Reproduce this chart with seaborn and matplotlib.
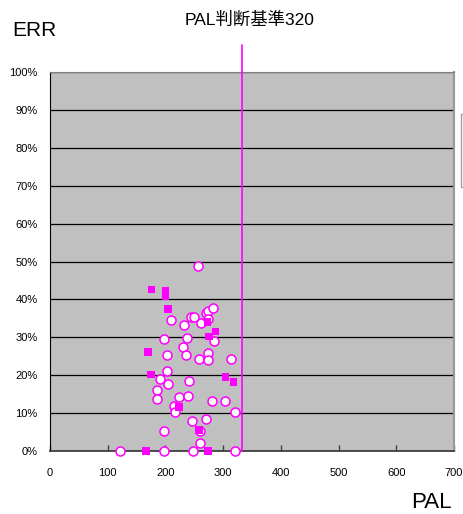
import matplotlib
matplotlib.use("Agg")
import matplotlib.pyplot as plt
import matplotlib.patches as mpatches
import pandas as pd
import seaborn as sns
from matplotlib.ticker import FuncFormatter

# open circles (PAL, ERR %)
circle_pal = [257, 210, 233, 244, 250, 262, 270, 273, 283, 274,
              197, 237, 285, 230, 202, 235, 259, 274, 274, 314,
              202, 191, 204, 241, 185, 185, 224, 239, 215, 217,
              281, 303, 320, 246, 270, 198, 260, 260,
              122, 198, 247, 320]
circle_err = [48.7, 34.5, 33.3, 35.4, 35.4, 33.8, 36.4, 37.0, 37.6, 34.7,
              29.6, 29.9, 29.0, 27.4, 25.2, 25.2, 24.3, 25.9, 23.9, 24.3,
              21.1, 18.9, 17.6, 18.6, 16.0, 13.6, 14.2, 14.5, 12.0, 10.3,
              13.2, 13.2, 10.3, 7.8, 8.4, 5.2, 5.2, 2.0,
              0, 0, 0, 0]

# filled squares
square_pal = [176, 200, 200, 204, 273, 287, 276, 170, 175, 304, 318, 224, 258, 166, 274]
square_err = [42.6, 42.3, 40.9, 37.5, 34.0, 31.5, 30.2, 26.1, 20.2, 19.5, 18.2, 11.6, 5.5, 0, 0]

pal_limit = 333
x_ticks = [0, 100, 200, 300, 400, 500, 600, 700]
y_ticks = [0, 10, 20, 30, 40, 50, 60, 70, 80, 90, 100]

circles = pd.DataFrame({"PAL": circle_pal, "ERR": circle_err})
squares = pd.DataFrame({"PAL": square_pal, "ERR": square_err})

sns.set_style("white")
plt.rcParams["font.family"] = ["Liberation Sans", "Noto Sans CJK JP"]
plt.rcParams["text.color"] = "black"
plt.rcParams["xtick.color"] = "black"
plt.rcParams["ytick.color"] = "black"

MAGENTA = "#FF00FF"

fig = plt.figure(figsize=(4.64, 5.14), dpi=100)
ax = fig.add_axes([50 / 464, 1 - 451 / 514, 404 / 464, 379 / 514])
ax.set_facecolor("#C0C0C0")

sns.scatterplot(data=circles, x="PAL", y="ERR", ax=ax, marker="o", s=42,
                facecolor="white", edgecolor=MAGENTA, linewidth=1.1,
                clip_on=False, zorder=3)
sns.scatterplot(data=squares, x="PAL", y="ERR", ax=ax, marker="s", s=30,
                color=MAGENTA, edgecolor="none", linewidth=0,
                clip_on=False, zorder=4)

ax.axvline(pal_limit, ymin=0, ymax=(451 - 45) / 379, color=MAGENTA,
           linewidth=1.2, clip_on=False, zorder=5)

ax.set_xlim(0, 700)
ax.set_ylim(0, 100)
ax.set_xticks(x_ticks)
ax.set_yticks(y_ticks)
ax.yaxis.set_major_formatter(FuncFormatter(lambda v, p: f"{v:.0f}%"))
ax.grid(axis="y", color="black", linewidth=0.9)
ax.grid(axis="x", visible=False)
ax.set_axisbelow(True)
ax.tick_params(axis="x", direction="in", length=4, width=1, color="#404040",
               labelsize=8, pad=12, bottom=True, labelcolor="black")
ax.tick_params(axis="y", length=0, labelsize=8, pad=9, labelcolor="black")
ax.set_xlabel("")
ax.set_ylabel("")

ax.spines["left"].set_color("black")
ax.spines["bottom"].set_color("#404040")
ax.spines["bottom"].set_linewidth(1.3)
ax.spines["top"].set_color("#808080")
ax.spines["right"].set_color("#999999")
ax.spines["right"].set_linewidth(1.5)

fig.text(250 / 464, 1 - 20 / 514, "PAL判断基準320", ha="center", va="center", fontsize=12.5)
fig.text(12 / 464, 1 - 31 / 514, "ERR", ha="left", va="center", fontsize=15)
fig.text(452 / 464, 1 - 503 / 514, "PAL", ha="right", va="center", fontsize=16)

# legend box cut off at the right edge
fig.patches.append(mpatches.Rectangle((461.5 / 464, 1 - 187 / 514), 0.05, 73 / 514,
                                      transform=fig.transFigure, facecolor="white",
                                      edgecolor="#a0a0a0", linewidth=1))

fig.savefig("out.png", dpi=100)
